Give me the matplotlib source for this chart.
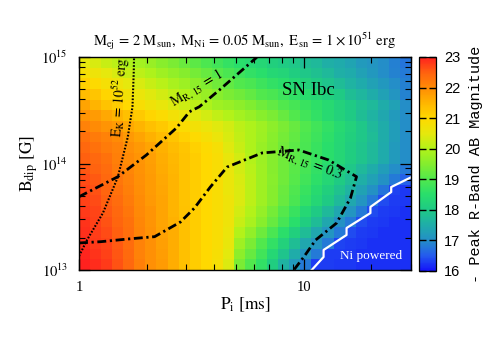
import numpy as np
import matplotlib
matplotlib.use("Agg")
import matplotlib.pyplot as plt
from matplotlib.colors import LinearSegmentedColormap

plt.rcParams['font.family'] = 'serif'
plt.rcParams['font.serif'] = ['Liberation Serif', 'DejaVu Serif']
plt.rcParams['mathtext.fontset'] = 'stix'

# ---------------- data ----------------
# grid (log-spaced) of initial spin period [ms] and dipole field [G]
p_min, p_max, n_p = 1.0, 30.0, 30
b_min_exp, b_max_exp, n_b = 13, 15, 20

# peak R-band magnitude (-M), rows from B=1e13 (bottom) to 1e15 (top), columns P=1..30 ms
peak_mag = [
    [23.0, 22.9, 22.8, 22.6, 22.4, 22.15, 21.95, 21.8, 21.6, 21.35, 21.15, 21.0, 20.8, 20.4, 19.4, 19.0, 18.6, 18.1, 17.6, 17.2, 16.8, 16.3, 16.3, 16.25, 16.25, 16.2, 16.2, 16.2, 16.2, 16.2],
    [22.95, 22.85, 22.75, 22.58, 22.38, 22.12, 21.95, 21.78, 21.6, 21.35, 21.15, 21.0, 20.82, 20.48, 19.6, 19.2, 18.8, 18.35, 17.9, 17.5, 17.1, 16.8, 16.3, 16.3, 16.25, 16.2, 16.2, 16.2, 16.2, 16.2],
    [22.9, 22.8, 22.7, 22.55, 22.35, 22.1, 21.95, 21.75, 21.6, 21.35, 21.15, 21.0, 20.85, 20.55, 19.8, 19.4, 19.0, 18.6, 18.2, 17.8, 17.4, 17.1, 16.8, 16.35, 16.3, 16.25, 16.2, 16.2, 16.2, 16.2],
    [22.88, 22.78, 22.65, 22.5, 22.32, 22.08, 21.92, 21.72, 21.58, 21.35, 21.15, 21.0, 20.85, 20.6, 20.0, 19.65, 19.28, 18.9, 18.52, 18.15, 17.75, 17.42, 17.1, 16.8, 16.4, 16.3, 16.25, 16.2, 16.2, 16.2],
    [22.85, 22.75, 22.6, 22.45, 22.3, 22.05, 21.9, 21.7, 21.55, 21.35, 21.15, 21.0, 20.85, 20.65, 20.2, 19.9, 19.55, 19.2, 18.85, 18.5, 18.1, 17.75, 17.4, 17.05, 16.8, 16.4, 16.3, 16.25, 16.2, 16.2],
    [22.8, 22.7, 22.55, 22.4, 22.25, 22.02, 21.88, 21.7, 21.52, 21.32, 21.15, 21.0, 20.85, 20.65, 20.3, 20.0, 19.68, 19.35, 19.02, 18.7, 18.35, 18.02, 17.7, 17.38, 17.1, 16.8, 16.4, 16.3, 16.25, 16.2],
    [22.75, 22.65, 22.5, 22.35, 22.2, 22.0, 21.85, 21.7, 21.5, 21.3, 21.15, 21.0, 20.85, 20.65, 20.4, 20.1, 19.8, 19.5, 19.2, 18.9, 18.6, 18.3, 18.0, 17.7, 17.4, 17.1, 16.8, 16.4, 16.3, 16.25],
    [22.7, 22.6, 22.45, 22.3, 22.15, 21.98, 21.82, 21.68, 21.5, 21.3, 21.15, 21.0, 20.85, 20.62, 20.38, 20.1, 19.8, 19.52, 19.25, 18.98, 18.7, 18.42, 18.15, 17.88, 17.6, 17.32, 17.05, 16.75, 16.35, 16.25],
    [22.65, 22.55, 22.4, 22.25, 22.1, 21.95, 21.8, 21.65, 21.5, 21.3, 21.15, 21.0, 20.85, 20.6, 20.35, 20.1, 19.8, 19.55, 19.3, 19.05, 18.8, 18.55, 18.3, 18.05, 17.8, 17.55, 17.3, 17.05, 16.8, 16.55],
    [22.58, 22.48, 22.35, 22.2, 22.05, 21.92, 21.78, 21.62, 21.48, 21.3, 21.15, 21.0, 20.85, 20.58, 20.32, 20.05, 19.78, 19.52, 19.3, 19.08, 18.85, 18.62, 18.4, 18.18, 17.95, 17.72, 17.5, 17.25, 17.0, 16.8],
    [22.5, 22.4, 22.3, 22.15, 22.0, 21.9, 21.75, 21.6, 21.45, 21.3, 21.15, 21.0, 20.85, 20.55, 20.3, 20.0, 19.75, 19.5, 19.3, 19.1, 18.9, 18.7, 18.5, 18.3, 18.1, 17.9, 17.7, 17.45, 17.2, 17.0],
    [22.4, 22.3, 22.2, 22.1, 21.95, 21.85, 21.7, 21.55, 21.4, 21.25, 21.1, 20.95, 20.8, 20.45, 20.2, 19.95, 19.7, 19.5, 19.3, 19.1, 18.9, 18.7, 18.5, 18.3, 18.1, 17.9, 17.7, 17.45, 17.2, 17.0],
    [22.3, 22.2, 22.1, 22.0, 21.85, 21.7, 21.55, 21.4, 21.25, 21.1, 20.95, 20.8, 20.6, 20.35, 20.15, 19.95, 19.75, 19.55, 19.35, 19.15, 18.95, 18.75, 18.55, 18.35, 18.15, 17.95, 17.75, 17.5, 17.25, 17.0],
    [22.1, 22.0, 21.9, 21.8, 21.65, 21.5, 21.35, 21.2, 21.05, 20.9, 20.75, 20.6, 20.45, 20.3, 20.1, 19.95, 19.8, 19.6, 19.4, 19.2, 19.0, 18.8, 18.6, 18.4, 18.2, 17.95, 17.7, 17.5, 17.25, 17.0],
    [21.9, 21.8, 21.65, 21.5, 21.35, 21.2, 21.05, 20.9, 20.75, 20.6, 20.45, 20.3, 20.15, 20.0, 19.85, 19.7, 19.55, 19.4, 19.2, 19.0, 18.8, 18.6, 18.4, 18.2, 18.0, 17.8, 17.6, 17.4, 17.2, 17.0],
    [21.7, 21.5, 21.3, 21.15, 21.0, 20.85, 20.7, 20.55, 20.4, 20.25, 20.1, 19.95, 19.8, 19.7, 19.6, 19.45, 19.3, 19.15, 19.0, 18.85, 18.7, 18.55, 18.4, 18.2, 18.0, 17.85, 17.7, 17.5, 17.3, 17.0],
    [21.4, 21.25, 21.05, 20.9, 20.75, 20.6, 20.45, 20.3, 20.15, 20.0, 19.85, 19.7, 19.55, 19.4, 19.3, 19.15, 19.0, 18.9, 18.75, 18.6, 18.45, 18.3, 18.15, 18.0, 17.8, 17.65, 17.5, 17.3, 17.1, 16.9],
    [21.1, 20.95, 20.8, 20.65, 20.5, 20.35, 20.2, 20.05, 19.9, 19.75, 19.6, 19.45, 19.3, 19.15, 19.0, 18.9, 18.75, 18.6, 18.5, 18.35, 18.2, 18.05, 17.9, 17.75, 17.6, 17.45, 17.3, 17.15, 17.0, 16.85],
    [20.8, 20.65, 20.5, 20.35, 20.2, 20.1, 19.95, 19.8, 19.65, 19.5, 19.35, 19.2, 19.05, 18.9, 18.75, 18.6, 18.5, 18.35, 18.25, 18.1, 17.95, 17.85, 17.7, 17.55, 17.45, 17.3, 17.15, 17.0, 16.9, 16.8],
    [20.5, 20.35, 20.2, 20.1, 19.95, 19.85, 19.7, 19.55, 19.4, 19.25, 19.1, 18.95, 18.8, 18.65, 18.5, 18.4, 18.3, 18.15, 18.05, 17.95, 17.8, 17.7, 17.55, 17.45, 17.35, 17.2, 17.1, 17.0, 16.85, 16.75],
]

# contour M_R,15 = 1
mr1_p = [1.0, 1.488, 1.994, 2.71, 3.10, 3.43, 4.21, 6.11, 6.19]
mr1_logb = [13.688, 13.876, 14.080, 14.333, 14.486, 14.533, 14.690, 14.988, 15.0]

# contour M_R,15 = 0.3
mr03_p = [1.0, 1.251, 1.647, 2.169, 2.828, 3.262, 3.838, 4.56, 6.52, 9.50, 12.9, 17.17, 16.14, 14.0, 11.3, 10.0, 9.03]
mr03_logb = [13.254, 13.266, 13.291, 13.313, 13.451, 13.582, 13.779, 13.967, 14.099, 14.127, 14.033, 13.876, 13.676, 13.441, 13.282, 13.122, 13.0]

# E_K = 1e52 erg line
ek_p = [1.0, 1.085, 1.277, 1.488, 1.648, 1.729, 1.751, 1.757]
ek_logb = [13.131, 13.282, 13.535, 13.873, 14.249, 14.533, 14.850, 15.0]

# Ni-powered boundary (staircase)
ni_p = [10.85, 12.25, 12.25, 15.5, 15.5, 19.8, 19.8, 24.5, 24.5, 30.0]
ni_logb = [13.0, 13.122, 13.188, 13.329, 13.394, 13.535, 13.592, 13.732, 13.779, 13.87]

cbar_ticks = [16, 17, 18, 19, 20, 21, 22, 23]
title_text = (r'$\mathrm{M_{ej}\,=\,2\ M_{sun},\ M_{Ni}\,=\,0.05\ M_{sun},\ '
              r'E_{sn}\,=\,1\times10^{51}\ erg}$')

# ---------------- colormap ----------------
cm_vals = [16.0, 16.5, 17.0, 17.5, 18.0, 18.5, 19.0, 19.5, 20.0, 20.5, 21.0, 21.5, 22.0, 22.5, 23.0]
cm_cols = [(0.08, 0.08, 0.98), (0.14, 0.36, 0.93), (0.14, 0.56, 0.78), (0.12, 0.68, 0.66),
           (0.12, 0.79, 0.52), (0.16, 0.87, 0.42), (0.32, 0.91, 0.30), (0.52, 0.93, 0.18),
           (0.70, 0.95, 0.10), (0.90, 0.91, 0.05), (1.0, 0.85, 0.0), (1.0, 0.71, 0.0),
           (1.0, 0.55, 0.02), (1.0, 0.38, 0.06), (1.0, 0.13, 0.12)]
cmap = LinearSegmentedColormap.from_list(
    'rb', [((v - 16.0) / 7.0, c) for v, c in zip(cm_vals, cm_cols)])

# ---------------- figure ----------------
fig = plt.figure(figsize=(4.91, 3.43), dpi=100)
ax = fig.add_axes([0.161, 0.2128, 0.676, 0.621])
cax = fig.add_axes([0.8534, 0.21, 0.0346, 0.624])

p_edges = np.logspace(np.log10(p_min), np.log10(p_max), n_p + 1)
b_edges = np.logspace(b_min_exp, b_max_exp, n_b + 1)
mesh = ax.pcolormesh(p_edges, b_edges, np.array(peak_mag), cmap=cmap,
                     vmin=16, vmax=23, shading='flat', rasterized=True)

dashdot = (0, (3.2, 1.3, 0.8, 1.3))
ax.plot(mr1_p, 10 ** np.array(mr1_logb), color='black', lw=2.0, linestyle=dashdot)
ax.plot(mr03_p, 10 ** np.array(mr03_logb), color='black', lw=2.0, linestyle=dashdot)
ax.plot(ek_p, 10 ** np.array(ek_logb), color='black', lw=1.5, linestyle=(0, (0.8, 0.8)))
ax.plot(ni_p, 10 ** np.array(ni_logb), color='white', lw=1.6)

ax.set_xscale('log')
ax.set_yscale('log')
ax.set_xlim(p_min, p_max)
ax.set_ylim(10.0 ** b_min_exp, 10.0 ** b_max_exp)

ax.set_xticks([1, 10])
ax.set_xticklabels(['1', '10'])
ax.set_yticks([1e13, 1e14, 1e15])
ax.set_yticklabels([r'$\mathrm{10^{13}}$', r'$\mathrm{10^{14}}$', r'$\mathrm{10^{15}}$'])
ax.tick_params(which='both', direction='in', top=True, right=True, labelsize=10.5, color='black')
ax.tick_params(which='major', length=8, width=0.9, pad=8)
ax.tick_params(which='minor', length=4, width=0.8)
ax.xaxis.set_minor_formatter(matplotlib.ticker.NullFormatter())
ax.yaxis.set_minor_formatter(matplotlib.ticker.NullFormatter())

ax.set_xlabel(r'$\mathrm{P_{i}\ [ms]}$', fontsize=12.5, labelpad=1)
ax.set_ylabel(r'$\mathrm{B_{dip}\ [G]}$', fontsize=12.5, labelpad=1)
ax.set_title(title_text, fontsize=10.5, pad=8)

ax.text(3.33, 5.1e14, r'$\mathrm{M_{R,\,15}\,=\,1}$', rotation=31, fontsize=10,
        ha='center', va='center')
ax.text(10.6, 9.9e13, r'$\mathrm{M_{R,\,15}\,=\,0.3}$', rotation=-21, fontsize=10,
        ha='center', va='center')
ax.text(1.514, 4.2e14, r'$\mathrm{E_{K}\,=\,10^{52}\ erg}$', rotation=86, fontsize=10,
        ha='center', va='center')
ax.text(10.5, 4.9e14, 'SN Ibc', fontsize=13.5, ha='center', va='center')
ax.text(20.0, 1.35e13, 'Ni powered', fontsize=9.5, color='white', ha='center', va='center')

for s in ax.spines.values():
    s.set_linewidth(1.0)

cb = fig.colorbar(mesh, cax=cax, ticks=cbar_ticks)
cb.outline.set_linewidth(0.9)
cax.tick_params(axis='y', direction='in', left=True, right=True, length=5, width=1.0,
                labelsize=10.5, pad=6)
for lbl in cax.get_yticklabels():
    lbl.set_family('Liberation Sans')
cax.minorticks_off()
cax.set_ylabel('- Peak R-Band AB Magnitude', family='Liberation Mono', fontsize=11,
               labelpad=6)

fig.savefig('out.png', dpi=100)
